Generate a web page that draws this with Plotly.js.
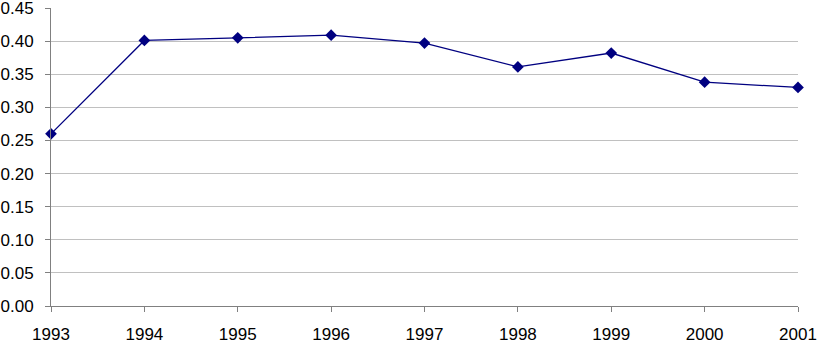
<!DOCTYPE html>
<html>
<head>
<meta charset="utf-8">
<script src="https://cdn.plot.ly/plotly-3.0.1.min.js"></script>
<style>html,body{margin:0;padding:0;background:#fff;}#chart{width:821px;height:356px;}</style>
</head>
<body>
<div id="chart"></div>
<script>
var years = [1993, 1994, 1995, 1996, 1997, 1998, 1999, 2000, 2001];
var values = [0.260, 0.401, 0.405, 0.409, 0.397, 0.361, 0.382, 0.338, 0.330];
var yTicks = [0, 0.05, 0.10, 0.15, 0.20, 0.25, 0.30, 0.35, 0.40, 0.45];
var yTickText = yTicks.map(function(v){ return v.toFixed(2); });

Plotly.newPlot('chart', [{
  x: years,
  y: values,
  type: 'scatter',
  mode: 'lines+markers',
  line: {color: '#000080', width: 1.3},
  marker: {symbol: 'diamond', size: 9, color: '#000080'},
  cliponaxis: false,
  hoverinfo: 'none'
}], {
  width: 821, height: 356,
  margin: {l: 51, r: 23, t: 8, b: 50},
  paper_bgcolor: '#ffffff',
  plot_bgcolor: '#ffffff',
  showlegend: false,
  font: {family: 'Liberation Sans, Arial, sans-serif', size: 17, color: '#000000'},
  xaxis: {
    range: [1993, 2001],
    tickvals: years,
    ticktext: years.map(String),
    showgrid: false,
    zeroline: false,
    showline: true,
    linecolor: '#808080',
    linewidth: 1,
    ticks: 'outside',
    ticklen: 5,
    tickcolor: '#808080',
    tickfont: {size: 17},
    ticklabeloverflow: 'allow',
    ticklabelstandoff: 8
  },
  yaxis: {
    range: [0, 0.45],
    tickvals: yTicks,
    ticktext: yTickText,
    showgrid: true,
    gridcolor: '#c0c0c0',
    gridwidth: 1,
    zeroline: false,
    showline: true,
    linecolor: '#808080',
    linewidth: 1,
    ticks: 'outside',
    ticklen: 5,
    tickcolor: '#808080',
    tickfont: {size: 17},
    ticklabeloverflow: 'allow',
    ticklabelstandoff: 8
  }
}, {staticPlot: true});
</script>
</body>
</html>
